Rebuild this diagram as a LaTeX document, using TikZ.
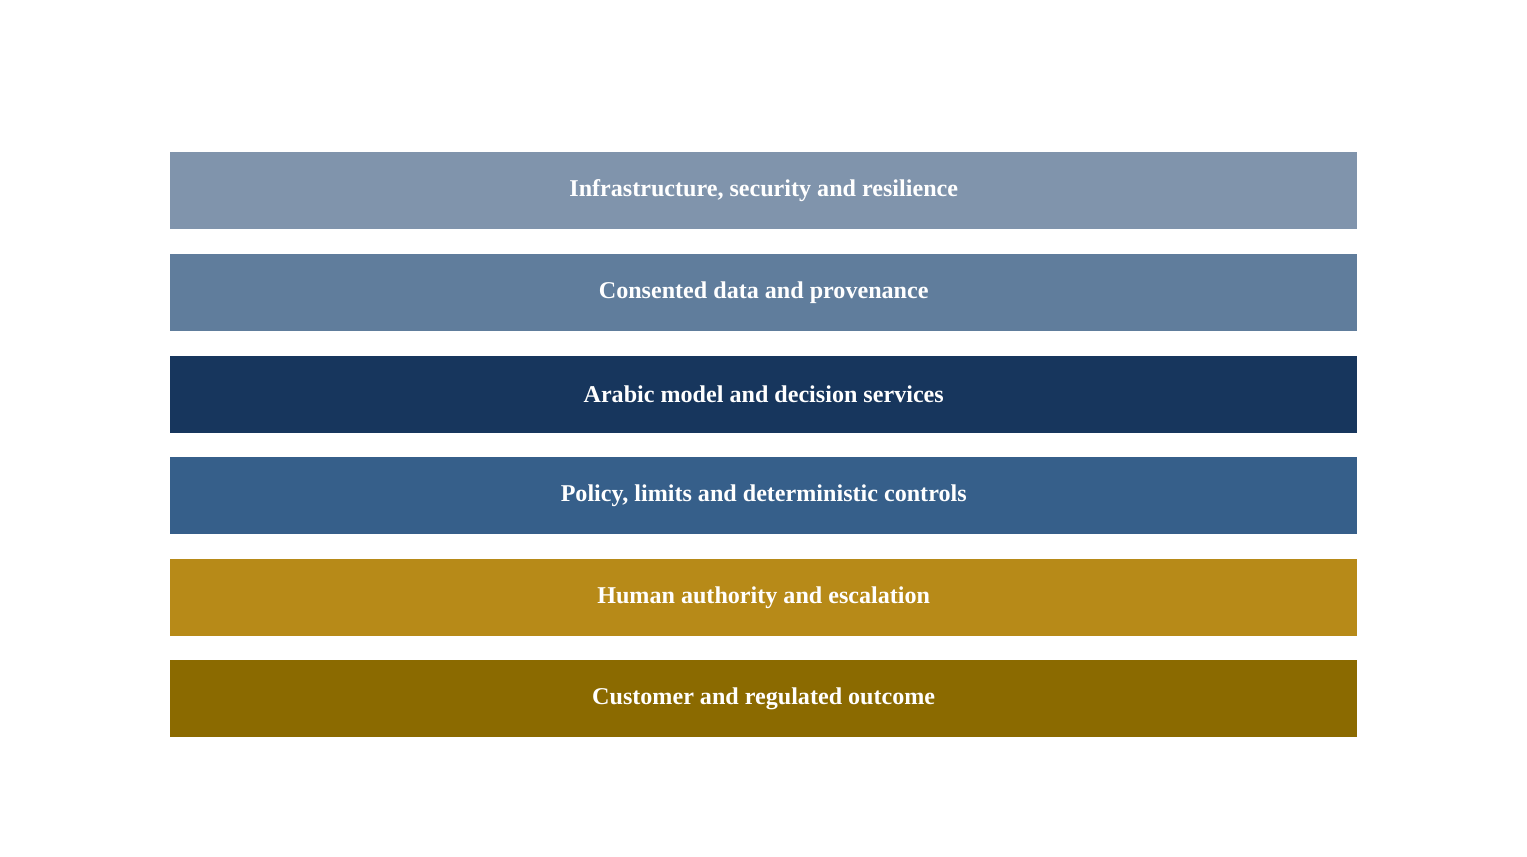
\documentclass[tikz,border=0pt]{standalone}
\usepackage{fontspec}
\setmainfont{Liberation Serif}
\definecolor{c1}{HTML}{8094AC}
\definecolor{c2}{HTML}{607D9C}
\definecolor{c3}{HTML}{17365D}
\definecolor{c4}{HTML}{365F8A}
\definecolor{c5}{HTML}{B78A18}
\definecolor{c6}{HTML}{8B6A00}
\begin{document}
\begin{tikzpicture}[x=1pt,y=-1pt,
  layer/.style={minimum width=1187pt,minimum height=77pt,inner sep=0pt,text=white,font=\fontsize{24.1}{28}\selectfont\bfseries,anchor=north west}]
\useasboundingbox (0,0) rectangle (1527,857);
\node[layer,fill=c1] (l1) at (170,152) {Infrastructure, security and resilience};
\node[layer,fill=c2] (l2) at (170,254) {Consented data and provenance};
\node[layer,fill=c3] (l3) at (170,355.5) {Arabic model and decision services};
\node[layer,fill=c4] (l4) at (170,457) {Policy, limits and deterministic controls};
\node[layer,fill=c5] (l5) at (170,559) {Human authority and escalation};
\node[layer,fill=c6] (l6) at (170,660) {Customer and regulated outcome};
\end{tikzpicture}
\end{document}
